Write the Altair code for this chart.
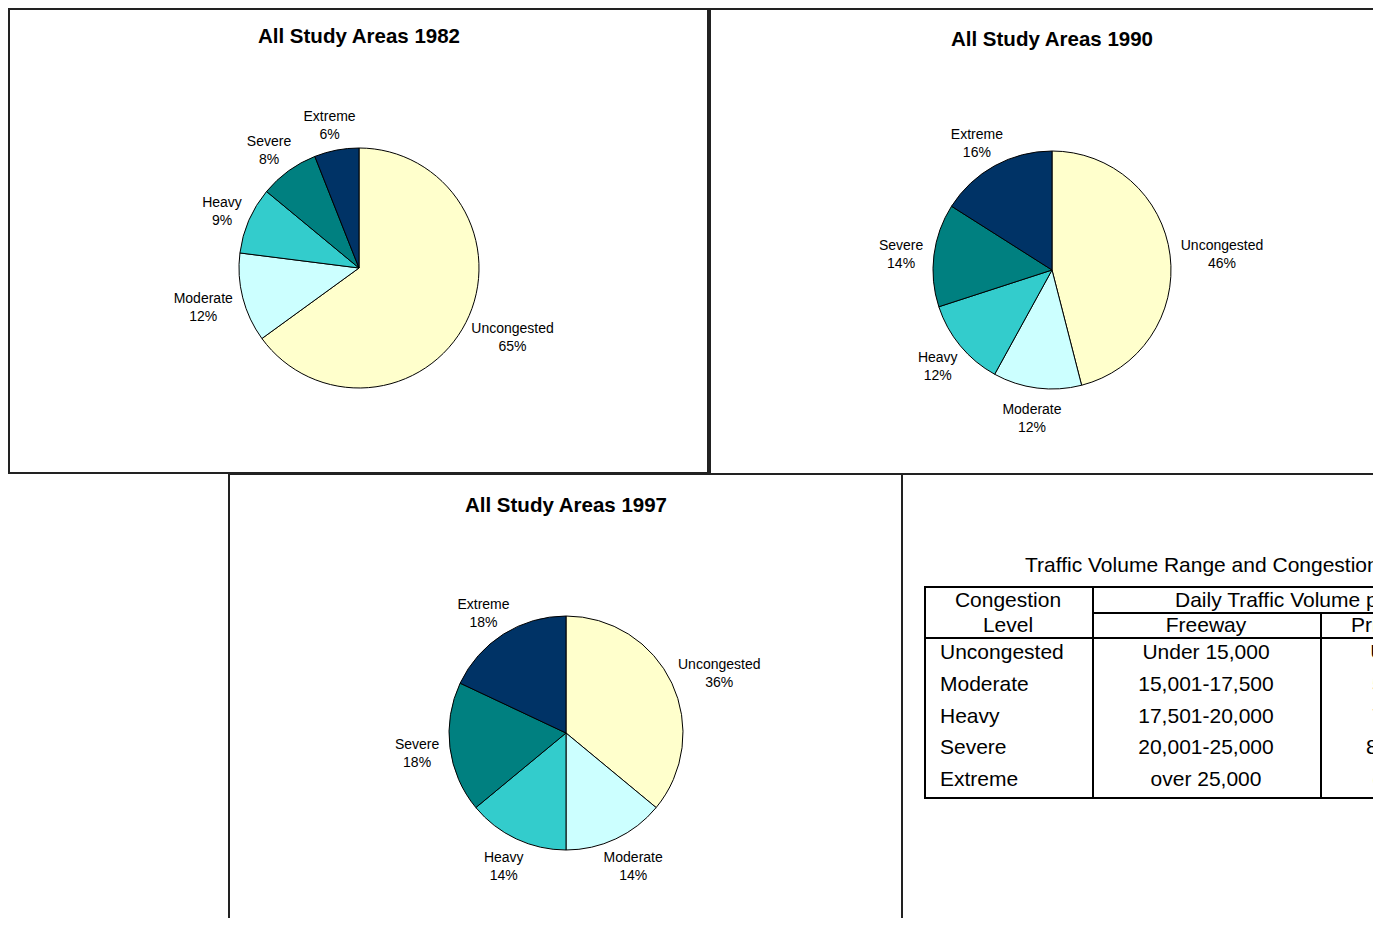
import altair as alt
import pandas as pd
import numpy as np

# ---------------- data ----------------
levels = ["Uncongested", "Moderate", "Heavy", "Severe", "Extreme"]
colors = ["#FFFFCC", "#CCFFFF", "#33CCCC", "#008080", "#003366"]
pct_1982 = [65, 12, 9, 8, 6]
pct_1990 = [46, 12, 12, 14, 16]
pct_1997 = [36, 14, 14, 18, 18]
titles = ["All Study Areas 1982", "All Study Areas 1990", "All Study Areas 1997"]

table_title = "Traffic Volume Range and Congestion Level"
head_level = ["Congestion", "Level"]
head_group = "Daily Traffic Volume per Lane"
head_cols = ["Freeway", "Principal Arterial"]
freeway = ["Under 15,000", "15,001-17,500", "17,501-20,000", "20,001-25,000", "over 25,000"]
arterial = ["Under 5,500", "5,501-7,000", "7,001-8,500", "8,501-10,000", "over 10,000"]

FONT = "Liberation Sans, Arial, sans-serif"
ONE = alt.Data(values=[{}])


def pie_frame(values, R):
    df = pd.DataFrame({"level": levels, "value": values, "idx": list(range(len(levels)))})
    df["label"] = df["level"] + "\n" + df["value"].astype(str) + "%"
    cum = df["value"].cumsum()
    mid = (cum - df["value"] / 2) / df["value"].sum() * 2 * np.pi
    ux, uy = np.sin(mid), -np.cos(mid)
    w = df["level"].str.len() * 7.7
    # label box placed just outside the slice, pushed out by its half extents
    vx = (R + 10) * ux + (w / 2) * ux
    vy = (R + 10) * uy + 18 * uy - 6
    df["lt"] = np.arctan2(vx, -vy)
    df["lr"] = np.hypot(vx, vy)
    return df


def text_at(txt, x, y, align="center", size=21, weight="normal"):
    return alt.Chart(ONE).mark_text(
        font=FONT, fontSize=size, fontWeight=weight, align=align,
        baseline="middle", color="black",
    ).encode(x=alt.value(x), y=alt.value(y), text=alt.value(txt))


def rule(x1, y1, x2, y2, w=2, color="black"):
    return alt.Chart(ONE).mark_rule(color=color, strokeWidth=w).encode(
        x=alt.value(x1), x2=alt.value(x2), y=alt.value(y1), y2=alt.value(y2)
    )


def box(x1, y1, x2, y2, w=2, color="#222222"):
    return alt.Chart(ONE).mark_rect(fillOpacity=0, stroke=color, strokeWidth=w).encode(
        x=alt.value(x1), x2=alt.value(x2), y=alt.value(y1), y2=alt.value(y2)
    )


def pie_layers(values, cx, cy, R, title, ty):
    df = pie_frame(values, R)
    arc = alt.Chart(df).mark_arc(outerRadius=R, stroke="black", strokeWidth=1).encode(
        theta=alt.Theta("value:Q", stack=True),
        order=alt.Order("idx:Q"),
        color=alt.Color("level:N", scale=alt.Scale(domain=levels, range=colors), legend=None),
        x=alt.value(cx),
        y=alt.value(cy),
    )
    lab = alt.Chart(df).mark_text(
        font=FONT, fontSize=14, lineHeight=18, lineBreak="\n",
        align="center", baseline="middle", color="black",
    ).encode(
        theta=alt.Theta("lt:Q", scale=None),
        radius=alt.Radius("lr:Q", scale=None),
        text="label:N",
        x=alt.value(cx),
        y=alt.value(cy),
    )
    ttl = text_at(title, cx, ty, "center", 20.5, "bold")
    return [arc, lab, ttl]


layers = []
# panel borders
layers += [box(1, 1, 700, 465), box(702, 1, 1420, 466), box(221, 466, 894, 960)]

# pies
layers += pie_layers(pct_1982, 351, 260, 120, titles[0], 29)
layers += pie_layers(pct_1990, 1044, 262, 119, titles[1], 32)
layers += pie_layers(pct_1997, 558, 725, 117, titles[2], 498)

# table
layers.append(text_at(table_title, 1017, 558, "left", 21))
layers += [
    box(917, 579, 1527, 790, 2, "black"),
    rule(1085, 579, 1085, 790),
    rule(1313, 605, 1313, 790),
    rule(1085, 605, 1540, 605),
    rule(917, 630, 1540, 630),
]
layers += [
    text_at(head_level[0], 1000, 593),
    text_at(head_level[1], 1000, 618),
    text_at(head_group, 1167, 593, "left"),
    text_at(head_cols[0], 1198, 618),
    text_at(head_cols[1], 1343, 618, "left"),
]
rows = pd.DataFrame({"level": levels, "freeway": freeway, "arterial": arterial,
                     "row": list(range(len(levels)))})
rbase = alt.Chart(rows).transform_calculate(ypos="645 + datum.row * 31.75")
tstyle = dict(font=FONT, fontSize=21, baseline="middle", color="black")
layers += [
    rbase.mark_text(align="left", **tstyle).encode(
        x=alt.value(932), y=alt.Y("ypos:Q", scale=None), text="level:N"),
    rbase.mark_text(align="center", **tstyle).encode(
        x=alt.value(1198), y=alt.Y("ypos:Q", scale=None), text="freeway:N"),
    rbase.mark_text(align="center", **tstyle).encode(
        x=alt.value(1420), y=alt.Y("ypos:Q", scale=None), text="arterial:N"),
]

chart = alt.layer(*layers).resolve_scale(theta="independent").properties(
    width=1365, height=910, autosize=alt.AutoSizeParams(type="none"), padding=0
).configure_view(stroke=None)

chart.save("out.html", embed_options={"renderer": "svg", "actions": False})
